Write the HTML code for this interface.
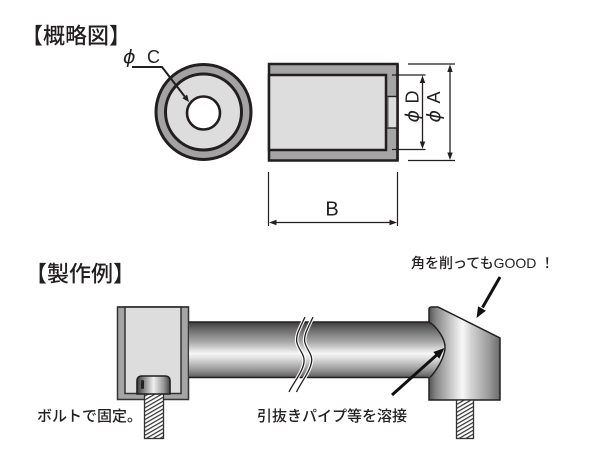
<!DOCTYPE html>
<html>
<head>
<meta charset="utf-8">
<style>
  html, body { margin:0; padding:0; background:#fff; }
  svg { display:block; }
  .jp { font-family: "Liberation Sans", "Noto Sans CJK JP", sans-serif; fill:#231f20; font-weight:500; }
  .lt { font-family: "Liberation Sans", "DejaVu Sans", sans-serif; fill:#231f20; }
  .phi { font-family: "DejaVu Sans", "Liberation Sans", sans-serif; font-style: oblique; fill:#231f20; }
</style>
</head>
<body>
<svg width="600" height="450" viewBox="0 0 600 450" xmlns="http://www.w3.org/2000/svg">
  <defs>
    <linearGradient id="pipeGrad" gradientUnits="userSpaceOnUse" x1="0" y1="322" x2="0" y2="378">
      <stop offset="0" stop-color="#3c3c3c"/>
      <stop offset="0.12" stop-color="#666"/>
      <stop offset="0.35" stop-color="#a6a6a6"/>
      <stop offset="0.56" stop-color="#f6f6f6"/>
      <stop offset="0.64" stop-color="#e2e2e2"/>
      <stop offset="0.86" stop-color="#959595"/>
      <stop offset="1" stop-color="#555"/>
    </linearGradient>
    <linearGradient id="blockGrad" gradientUnits="userSpaceOnUse" x1="429" y1="0" x2="500" y2="0">
      <stop offset="0" stop-color="#555"/>
      <stop offset="0.1" stop-color="#878787"/>
      <stop offset="0.3" stop-color="#c6c6c6"/>
      <stop offset="0.47" stop-color="#f8f8f8"/>
      <stop offset="0.6" stop-color="#d2d2d2"/>
      <stop offset="0.85" stop-color="#999"/>
      <stop offset="1" stop-color="#6a6a6a"/>
    </linearGradient>
    <linearGradient id="headGrad" gradientUnits="objectBoundingBox" x1="0" y1="0" x2="1" y2="0">
      <stop offset="0" stop-color="#3a3a3a"/>
      <stop offset="0.18" stop-color="#7a7a7a"/>
      <stop offset="0.5" stop-color="#f0f0f0"/>
      <stop offset="0.8" stop-color="#9a9a9a"/>
      <stop offset="1" stop-color="#444"/>
    </linearGradient>
    <pattern id="hatch" patternUnits="userSpaceOnUse" width="40" height="3.4" patternTransform="rotate(-30)">
      <rect x="0" y="0" width="40" height="3.4" fill="#fff"/>
      <line x1="0" y1="0.6" x2="40" y2="0.6" stroke="#333" stroke-width="1.2"/>
    </pattern>
  </defs>

  <rect x="0" y="0" width="600" height="450" fill="#fff"/>

  <!-- ===== Titles ===== -->
  <text class="jp" x="21" y="43.5" font-size="22">【概略図】</text>
  <text class="jp" x="25" y="281.5" font-size="22">【製作例】</text>

  <!-- ===== Ring (end view) ===== -->
  <circle cx="203.5" cy="112" r="47.5" fill="#a3a3a3" stroke="#231f20" stroke-width="3"/>
  <circle cx="203.5" cy="112" r="38" fill="#dddddd" stroke="#231f20" stroke-width="3"/>
  <circle cx="203.5" cy="113" r="16.5" fill="#fff" stroke="#231f20" stroke-width="2.6"/>

  <!-- phi C label & leader -->
  <text class="phi" x="123" y="63" font-size="19">ϕ</text>
  <text class="lt" x="147" y="63" font-size="18">C</text>
  <polyline points="132,67 162,67 184.7,96.5" fill="none" stroke="#231f20" stroke-width="2"/>
  <polygon points="189,102 187.1,94.6 182.3,98.3" fill="#231f20"/>

  <!-- ===== Side view rectangle ===== -->
  <rect x="269" y="64" width="128.5" height="96.5" fill="#a5a5a5" stroke="#231f20" stroke-width="2.5"/>
  <rect x="269" y="75" width="117" height="75" fill="#dddddd" stroke="#231f20" stroke-width="2.5"/>
  <rect x="388" y="96.5" width="9" height="31.5" fill="#dddddd"/>
  <line x1="386" y1="96.5" x2="398" y2="96.5" stroke="#231f20" stroke-width="1.4"/>
  <line x1="386" y1="128" x2="398" y2="128" stroke="#231f20" stroke-width="1.4"/>
  <line x1="388" y1="96.5" x2="388" y2="128" stroke="#555" stroke-width="1"/>
  <line x1="397.5" y1="64" x2="397.5" y2="160.5" stroke="#231f20" stroke-width="2.5"/>

  <!-- phi D dimension -->
  <line x1="392" y1="75" x2="425.5" y2="75" stroke="#231f20" stroke-width="1.2"/>
  <line x1="392" y1="149.5" x2="425.5" y2="149.5" stroke="#231f20" stroke-width="1.2"/>
  <line x1="422.5" y1="80" x2="422.5" y2="144" stroke="#231f20" stroke-width="1.3"/>
  <polygon points="422.5,75.5 419.8,83 425.2,83" fill="#231f20"/>
  <polygon points="422.5,149 419.8,141.5 425.2,141.5" fill="#231f20"/>
  <g transform="translate(412,104.5) rotate(-90)">
    <text class="phi" x="-18" y="6.5" font-size="19">ϕ</text>
    <text class="lt" x="1" y="6.5" font-size="18">D</text>
  </g>

  <!-- phi A dimension -->
  <line x1="408" y1="64" x2="455" y2="64" stroke="#231f20" stroke-width="1.2"/>
  <line x1="408" y1="160.5" x2="455" y2="160.5" stroke="#231f20" stroke-width="1.2"/>
  <line x1="450" y1="69" x2="450" y2="155" stroke="#231f20" stroke-width="1.3"/>
  <polygon points="450,64.5 447.3,72 452.7,72" fill="#231f20"/>
  <polygon points="450,160 447.3,152.5 452.7,152.5" fill="#231f20"/>
  <g transform="translate(433.5,104.5) rotate(-90)">
    <text class="phi" x="-18" y="6.5" font-size="19">ϕ</text>
    <text class="lt" x="1" y="6.5" font-size="18">A</text>
  </g>

  <!-- B dimension -->
  <line x1="268.5" y1="172" x2="268.5" y2="226" stroke="#231f20" stroke-width="1.2"/>
  <line x1="397.5" y1="172" x2="397.5" y2="226" stroke="#231f20" stroke-width="1.2"/>
  <line x1="273" y1="222.5" x2="393" y2="222.5" stroke="#231f20" stroke-width="1.3"/>
  <polygon points="269,222.5 276.5,219.8 276.5,225.2" fill="#231f20"/>
  <polygon points="397,222.5 389.5,219.8 389.5,225.2" fill="#231f20"/>
  <text class="lt" x="332" y="215.5" font-size="20" text-anchor="middle">B</text>

  <!-- ===== Example: left bracket ===== -->
  <rect x="117.5" y="307" width="71" height="92.5" fill="#a5a5a5" stroke="#333" stroke-width="1.5"/>
  <rect x="125" y="307" width="56" height="86.5" fill="#dddddd" stroke="#333" stroke-width="1.5"/>
  <line x1="117.5" y1="307" x2="188.5" y2="307" stroke="#333" stroke-width="1.5"/>

  <!-- left bolt shaft -->
  <rect x="144.5" y="393" width="19" height="45.5" fill="url(#hatch)" stroke="#333" stroke-width="1.3"/>
  <!-- left bolt head -->
  <path d="M137,394 L137,381 Q137,376 142,376 L165,376 Q170,376 170,381 L170,394 Z" fill="url(#headGrad)" stroke="#231f20" stroke-width="1.6"/>
  <rect x="141" y="380" width="3" height="9" rx="1.2" fill="#222"/>

  <!-- ===== Right block ===== -->
  <path d="M429,400 L429,309.5 Q429,307 431.5,307 L438,307 L500,338 L500,400 Z" fill="url(#blockGrad)" stroke="#231f20" stroke-width="1.5"/>
  <!-- right bolt -->
  <rect x="456.5" y="400" width="17" height="38.5" fill="url(#hatch)" stroke="#333" stroke-width="1.3"/>

  <!-- ===== Pipe ===== -->
  <rect x="189" y="322" width="241" height="55.5" fill="url(#pipeGrad)"/>
  <line x1="189" y1="322" x2="430" y2="322" stroke="#231f20" stroke-width="1.6"/>
  <line x1="189" y1="377.5" x2="430" y2="377.5" stroke="#231f20" stroke-width="1.6"/>
  <path d="M428.5,322 C436,326 446,339 445,348.5 C444,358 437,370 430,377.5 L428.5,377.5 Z" fill="url(#pipeGrad)"/>
  <path d="M429,322 C436,326 446,339 445,348.5 C444,358 437,370 430,377.5" fill="none" stroke="#231f20" stroke-width="1.4"/>

  <!-- break lines -->
  <path d="M305,317 C300,328 295,336 297,343 C299,350 305,355 304,362 C303,372 293,383 289,392" fill="none" stroke="#fff" stroke-width="3.5"/>
  <path d="M313,317 C308,328 303,336 305,343 C307,350 313,355 311.5,362 C310,372 300.5,383 296.5,392" fill="none" stroke="#fff" stroke-width="3.5"/>
  <path d="M305,317 C300,328 295,336 297,343 C299,350 305,355 304,362 C303,372 293,383 289,392" fill="none" stroke="#231f20" stroke-width="1.3"/>
  <path d="M313,317 C308,328 303,336 305,343 C307,350 313,355 311.5,362 C310,372 300.5,383 296.5,392" fill="none" stroke="#231f20" stroke-width="1.3"/>

  <!-- ===== Arrows ===== -->
  <line x1="500" y1="277" x2="482.5" y2="307.5" stroke="#111" stroke-width="3"/>
  <polygon points="476.5,318 485.9,310.7 478.1,306.2" fill="#111"/>
  <line x1="392" y1="395" x2="437" y2="354.7" stroke="#111" stroke-width="3"/>
  <polygon points="444.5,348 439.3,358.7 433.3,352" fill="#111"/>

  <!-- ===== Labels ===== -->
  <text class="jp" x="411" y="268" font-size="14">角を削ってもGOOD ！</text>
  <text class="jp" x="37" y="421" font-size="15">ボルトで固定。</text>
  <text class="jp" x="257" y="421" font-size="15">引抜きパイプ等を溶接</text>
</svg>
</body>
</html>
